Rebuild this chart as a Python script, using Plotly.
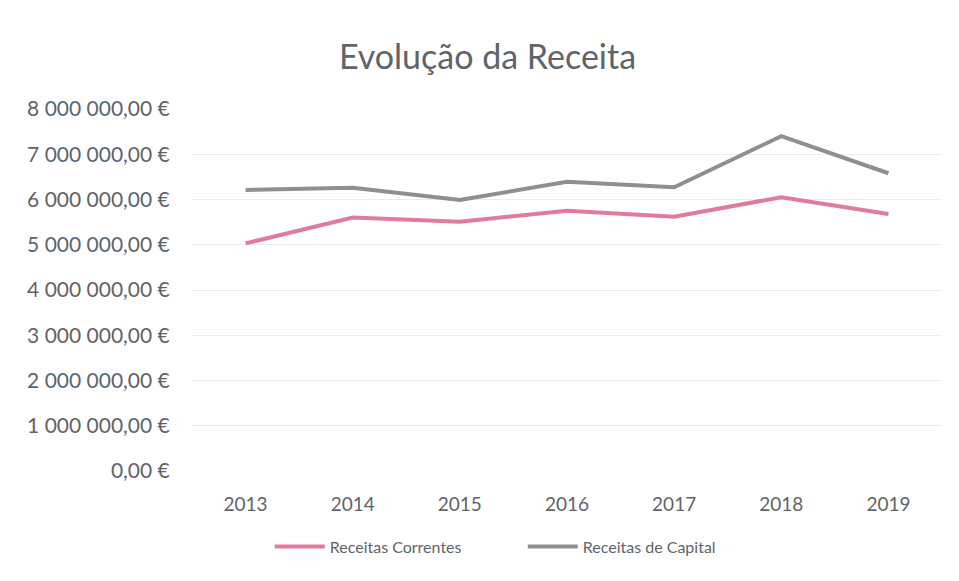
import plotly.graph_objects as go

years = ["2013", "2014", "2015", "2016", "2017", "2018", "2019"]
receitas_correntes = [5030000, 5600000, 5510000, 5750000, 5620000, 6050000, 5680000]
receitas_capital = [6210000, 6260000, 5990000, 6390000, 6270000, 7400000, 6580000]
tick_vals = [0, 1000000, 2000000, 3000000, 4000000, 5000000, 6000000, 7000000, 8000000]
tick_text = ["0,00 €", "1 000 000,00 €", "2 000 000,00 €", "3 000 000,00 €", "4 000 000,00 €",
             "5 000 000,00 €", "6 000 000,00 €", "7 000 000,00 €", "8 000 000,00 €"]

FONT = "Lato"
TXT = "#5f6468"

fig = go.Figure()
fig.add_trace(go.Scatter(x=years, y=receitas_correntes, mode="lines", name="Receitas Correntes",
                         line=dict(color="#e27a9e", width=4)))
fig.add_trace(go.Scatter(x=years, y=receitas_capital, mode="lines", name="Receitas de Capital",
                         line=dict(color="#8f8f93", width=4)))

fig.update_layout(
    width=959, height=581,
    paper_bgcolor="white", plot_bgcolor="white",
    margin=dict(l=184, r=25, t=101, b=118),
    title=dict(text="Evolução da Receita", x=0.5, xanchor="center", y=0.916, yanchor="middle",
               font=dict(family=FONT, size=34, color=TXT)),
    font=dict(family=FONT, color=TXT),
    showlegend=True,
    legend=dict(orientation="h", x=0.441, xanchor="center", y=-0.209, yanchor="middle",
                font=dict(size=16, color=TXT), itemwidth=50, entrywidth=188, tracegroupgap=0),
)
fig.update_xaxes(type="category", range=[-0.5, 6.5], showgrid=False, showline=False, zeroline=False,
                 tickfont=dict(size=19, color=TXT), ticks="outside", ticklen=16, tickcolor="rgba(0,0,0,0)")
fig.update_yaxes(range=[0, 8000000], tickvals=tick_vals, ticktext=tick_text, showgrid=True,
                 gridcolor="#ececec", gridwidth=1, zeroline=False, showline=False,
                 tickfont=dict(size=21, color=TXT), ticks="outside", ticklen=17, tickcolor="rgba(0,0,0,0)")

fig.write_html("out.html")
